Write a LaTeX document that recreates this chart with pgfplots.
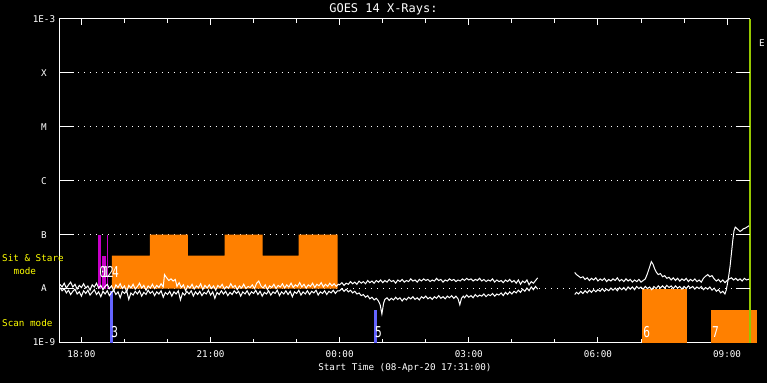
\documentclass[border=0pt]{standalone}
\usepackage{pgfplots}
\pgfplotsset{compat=1.18}
\usepackage{fontspec}
\setmainfont{DejaVu Sans Mono}
\definecolor{orng}{RGB}{255,128,0}
\definecolor{mgnt}{RGB}{200,0,200}
\definecolor{blu}{RGB}{100,100,255}
\definecolor{grn}{RGB}{150,200,0}
\definecolor{yel}{RGB}{255,255,0}
\newcommand{\sm}{\fontsize{9.3bp}{11bp}\selectfont}
\newcommand{\bl}[1]{\scalebox{0.75}[1]{\fontsize{15bp}{16bp}\selectfont #1}}
\begin{document}
\begin{tikzpicture}
\fill[black] (0bp,0bp) rectangle (768bp,384bp);
\begin{axis}[
  at={(60bp,41bp)}, anchor=south west,
  scale only axis, width=691bp, height=324bp,
  xmin=17.5, xmax=33.53, ymin=-9, ymax=-3,
  clip=false,
  axis line style={white, line width=1bp},
  xtick={18,21,24,27,30,33},
  xticklabels={18:00,21:00,00:00,03:00,06:00,09:00},
  minor xtick={19,20,22,23,25,26,28,29,31,32},
  major tick length=6bp, minor tick length=4bp,
  xtick style={white, line width=1bp},
  tick align=inside,
  ytick={-9,-8,-7,-6,-5,-4,-3},
  yticklabels={1E-9,A,B,C,M,X,1E-3},
  ytick style={draw=none},
  ymajorgrids,
  major grid style={white, line width=1bp, dash pattern=on 1bp off 5bp},
  tick label style={text=white, font=\sm},
  xticklabel style={anchor=north, inner sep=0pt, yshift=-8bp},
  yticklabel style={anchor=center, inner sep=0pt, xshift=-16bp},
  /pgf/number format/assume math mode=true,
]
% sit & stare bars
\addplot[fill=mgnt, draw=none] coordinates {(18.383,-8) (18.452,-8) (18.452,-7) (18.383,-7)};
\addplot[fill=mgnt, draw=none] coordinates {(18.469,-8) (18.568,-8) (18.568,-7.39) (18.469,-7.39)};
\addplot[fill=mgnt, draw=none] coordinates {(18.585,-8) (18.615,-8) (18.615,-7) (18.585,-7)};
\addplot[fill=orng, draw=none] coordinates {(18.708,-8) (18.708,-7.39) (19.589,-7.39) (19.589,-7) (20.471,-7) (20.471,-7.39) (21.329,-7.39) (21.329,-7) (22.211,-7) (22.211,-7.39) (23.046,-7.39) (23.046,-7) (23.951,-7) (23.951,-8)};
% scan bars
\addplot[fill=blu, draw=none] coordinates {(18.661,-9) (18.731,-9) (18.731,-8.05) (18.661,-8.05)};
\addplot[fill=blu, draw=none] coordinates {(24.798,-9) (24.856,-9) (24.856,-8.39) (24.798,-8.39)};
\addplot[fill=orng, draw=none] coordinates {(31.027,-9) (32.071,-9) (32.071,-8.0) (31.027,-8.0)};
\addplot[fill=orng, draw=none] coordinates {(32.629,-9) (33.70,-9) (33.70,-8.39) (32.629,-8.39)};
% upper curve, part 1
\addplot[white, line width=1bp] coordinates {
(17.50,-7.92) (17.55,-7.97) (17.60,-7.90) (17.65,-7.99) (17.70,-7.93) (17.75,-7.88) (17.80,-7.97) (17.85,-7.92) (17.90,-8.01) (17.95,-7.94)
(18.00,-7.98) (18.05,-7.91) (18.10,-7.99) (18.15,-7.95) (18.20,-8.03) (18.25,-7.93) (18.30,-7.97) (18.35,-7.90) (18.40,-7.99) (18.45,-7.94)
(18.50,-8.02) (18.55,-7.96) (18.60,-7.92) (18.65,-8.00) (18.70,-7.95) (18.75,-8.04) (18.80,-7.93) (18.85,-7.98) (18.90,-7.91) (18.95,-8.00)
(19.00,-7.95) (19.05,-8.06) (19.10,-7.94) (19.15,-7.99) (19.20,-7.92) (19.25,-8.01) (19.30,-7.96) (19.35,-7.90) (19.40,-7.99) (19.45,-7.94)
(19.50,-8.03) (19.55,-7.95) (19.60,-7.99) (19.65,-7.92) (19.70,-8.00) (19.75,-7.94) (19.80,-7.98) (19.85,-7.91) (19.90,-7.97) (19.93,-7.74)
(19.98,-7.80) (20.03,-7.85) (20.08,-7.82) (20.13,-7.86) (20.18,-7.83) (20.22,-7.96) (20.27,-7.89) (20.32,-7.98) (20.37,-7.93) (20.42,-8.04)
(20.47,-7.95) (20.52,-7.99) (20.57,-7.92) (20.62,-8.01) (20.67,-7.95) (20.72,-7.98) (20.77,-7.91) (20.82,-8.02) (20.87,-7.94) (20.92,-7.99)
(20.97,-7.93) (21.02,-8.00) (21.07,-7.95) (21.12,-8.03) (21.17,-7.94) (21.22,-7.98) (21.27,-7.92) (21.32,-8.01) (21.37,-7.96) (21.42,-7.99)
(21.47,-7.91) (21.52,-7.98) (21.57,-7.94) (21.62,-8.02) (21.67,-7.95) (21.72,-7.99) (21.77,-7.92) (21.82,-8.00) (21.87,-7.96) (21.92,-7.98)
(21.97,-7.93) (22.02,-8.00) (22.07,-7.90) (22.12,-7.86) (22.17,-7.95) (22.22,-7.99) (22.27,-7.93) (22.32,-8.02) (22.37,-7.95) (22.42,-7.98)
(22.47,-7.92) (22.52,-8.00) (22.57,-7.94) (22.62,-7.97) (22.67,-7.91) (22.72,-7.99) (22.77,-7.93) (22.82,-7.97) (22.87,-7.90) (22.92,-7.98)
(22.97,-7.93) (23.02,-7.96) (23.07,-7.89) (23.12,-7.97) (23.17,-7.92) (23.22,-7.99) (23.27,-7.93) (23.32,-7.96) (23.37,-7.90) (23.42,-7.98)
(23.47,-7.92) (23.52,-7.95) (23.57,-7.89) (23.62,-7.97) (23.67,-7.92) (23.72,-7.96) (23.77,-7.90) (23.82,-7.95) (23.87,-7.91) (23.92,-7.96)
(23.97,-7.92) (24.00,-7.93) (24.05,-7.89) (24.10,-7.94) (24.15,-7.90) (24.20,-7.92) (24.25,-7.87) (24.30,-7.91) (24.35,-7.88) (24.40,-7.92)
(24.45,-7.86) (24.50,-7.90) (24.55,-7.87) (24.60,-7.91) (24.65,-7.85) (24.70,-7.89) (24.75,-7.86) (24.80,-7.90) (24.85,-7.85) (24.90,-7.88)
(24.95,-7.84) (25.00,-7.89) (25.05,-7.85) (25.10,-7.88) (25.15,-7.83) (25.20,-7.87) (25.25,-7.85) (25.30,-7.90) (25.35,-7.84) (25.40,-7.87)
(25.45,-7.83) (25.50,-7.88) (25.55,-7.85) (25.60,-7.87) (25.65,-7.82) (25.70,-7.86) (25.75,-7.84) (25.80,-7.88) (25.85,-7.83) (25.90,-7.86)
(25.95,-7.82) (26.00,-7.85) (26.05,-7.83) (26.10,-7.87) (26.15,-7.84) (26.20,-7.86) (26.25,-7.81) (26.30,-7.85) (26.35,-7.83) (26.40,-7.88)
(26.45,-7.84) (26.50,-7.86) (26.55,-7.82) (26.60,-7.85) (26.65,-7.83) (26.70,-7.87) (26.75,-7.84) (26.80,-7.86) (26.85,-7.82) (26.90,-7.85)
(26.95,-7.81) (27.00,-7.84) (27.05,-7.82) (27.10,-7.86) (27.15,-7.83) (27.20,-7.85) (27.25,-7.81) (27.30,-7.86) (27.35,-7.83) (27.40,-7.87)
(27.45,-7.84) (27.50,-7.86) (27.55,-7.82) (27.60,-7.88) (27.65,-7.84) (27.70,-7.87) (27.75,-7.85) (27.80,-7.89) (27.85,-7.84) (27.90,-7.87)
(27.95,-7.83) (28.00,-7.88) (28.05,-7.85) (28.10,-7.90) (28.15,-7.84) (28.20,-7.92) (28.25,-7.86) (28.30,-7.89) (28.35,-7.84) (28.40,-7.93)
(28.45,-7.87) (28.50,-7.90) (28.55,-7.85) (28.60,-7.80)};
% lower curve, part 1
\addplot[white, line width=1bp] coordinates {
(17.50,-7.98) (17.55,-8.04) (17.60,-8.00) (17.65,-8.08) (17.70,-8.03) (17.75,-8.11) (17.80,-8.05) (17.85,-8.01) (17.90,-8.10) (17.95,-8.06)
(18.00,-8.14) (18.05,-8.04) (18.10,-8.09) (18.15,-8.03) (18.20,-8.12) (18.25,-8.07) (18.30,-8.02) (18.35,-8.11) (18.40,-8.06) (18.45,-8.15)
(18.50,-8.05) (18.55,-8.10) (18.60,-8.04) (18.65,-8.13) (18.70,-8.07) (18.75,-8.03) (18.80,-8.11) (18.85,-8.06) (18.90,-8.17) (18.95,-8.05)
(19.00,-8.09) (19.05,-8.04) (19.10,-8.20) (19.15,-8.08) (19.20,-8.12) (19.25,-8.05) (19.30,-8.10) (19.35,-8.04) (19.40,-8.14) (19.45,-8.07)
(19.50,-8.11) (19.55,-8.03) (19.60,-8.09) (19.65,-8.05) (19.70,-8.13) (19.75,-8.06) (19.80,-8.10) (19.85,-8.04) (19.90,-8.16) (19.95,-8.07)
(20.00,-8.11) (20.05,-8.05) (20.10,-8.14) (20.15,-8.06) (20.20,-8.10) (20.25,-8.04) (20.30,-8.21) (20.35,-8.08) (20.40,-8.12) (20.45,-8.05)
(20.50,-8.10) (20.55,-8.04) (20.60,-8.14) (20.65,-8.06) (20.70,-8.11) (20.75,-8.05) (20.80,-8.13) (20.85,-8.07) (20.90,-8.10) (20.95,-8.03)
(21.00,-8.12) (21.05,-8.06) (21.10,-8.18) (21.15,-8.07) (21.20,-8.11) (21.25,-8.04) (21.30,-8.10) (21.35,-8.05) (21.40,-8.13) (21.45,-8.07)
(21.50,-8.11) (21.55,-8.04) (21.60,-8.09) (21.65,-8.05) (21.70,-8.14) (21.75,-8.06) (21.80,-8.10) (21.85,-8.04) (21.90,-8.12) (21.95,-8.06)
(22.00,-8.09) (22.05,-8.03) (22.10,-8.11) (22.15,-8.05) (22.20,-8.14) (22.25,-8.07) (22.30,-8.10) (22.35,-8.04) (22.40,-8.12) (22.45,-8.06)
(22.50,-8.09) (22.55,-8.03) (22.60,-8.13) (22.65,-8.06) (22.70,-8.10) (22.75,-8.04) (22.80,-8.11) (22.85,-8.05) (22.90,-8.15) (22.95,-8.06)
(23.00,-8.09) (23.05,-8.03) (23.10,-8.12) (23.15,-8.06) (23.20,-8.10) (23.25,-8.04) (23.30,-8.11) (23.35,-8.05) (23.40,-8.08) (23.45,-8.03)
(23.50,-8.12) (23.55,-8.06) (23.60,-8.09) (23.65,-8.04) (23.70,-8.11) (23.75,-8.05) (23.80,-8.08) (23.85,-8.03) (23.90,-8.09) (23.95,-8.04)
(24.00,-8.04) (24.05,-8.00) (24.10,-8.05) (24.15,-8.01) (24.20,-8.06) (24.25,-8.03) (24.30,-8.08) (24.35,-8.05) (24.40,-8.10) (24.45,-8.08)
(24.50,-8.13) (24.55,-8.11) (24.60,-8.16) (24.65,-8.13) (24.70,-8.19) (24.75,-8.16) (24.80,-8.21) (24.85,-8.18) (24.90,-8.23) (24.94,-8.30)
(24.98,-8.47) (25.02,-8.27) (25.05,-8.20) (25.10,-8.17) (25.15,-8.22) (25.20,-8.18) (25.25,-8.21) (25.30,-8.16) (25.35,-8.20) (25.40,-8.17)
(25.45,-8.23) (25.50,-8.18) (25.55,-8.21) (25.60,-8.16) (25.65,-8.19) (25.70,-8.15) (25.75,-8.20) (25.80,-8.17) (25.85,-8.21) (25.90,-8.15)
(25.95,-8.18) (26.00,-8.14) (26.05,-8.19) (26.10,-8.16) (26.15,-8.20) (26.20,-8.15) (26.25,-8.18) (26.30,-8.13) (26.35,-8.18) (26.40,-8.15)
(26.45,-8.19) (26.50,-8.14) (26.55,-8.17) (26.60,-8.13) (26.65,-8.18) (26.70,-8.14) (26.75,-8.19) (26.79,-8.30) (26.83,-8.18) (26.87,-8.14)
(26.90,-8.17) (26.95,-8.12) (27.00,-8.16) (27.05,-8.13) (27.10,-8.17) (27.15,-8.11) (27.20,-8.15) (27.25,-8.12) (27.30,-8.14) (27.35,-8.10)
(27.40,-8.15) (27.45,-8.11) (27.50,-8.13) (27.55,-8.09) (27.60,-8.14) (27.65,-8.10) (27.70,-8.12) (27.75,-8.08) (27.80,-8.13) (27.85,-8.07)
(27.90,-8.11) (27.95,-8.06) (28.00,-8.10) (28.05,-8.05) (28.10,-8.08) (28.15,-8.03) (28.20,-8.07) (28.25,-8.01) (28.30,-8.05) (28.35,-7.99)
(28.40,-8.04) (28.45,-7.97) (28.50,-8.02) (28.55,-7.96) (28.60,-8.01)};
% upper curve, part 2
\addplot[white, line width=1bp] coordinates {
(29.46,-7.70) (29.50,-7.74) (29.55,-7.77) (29.60,-7.80) (29.65,-7.78) (29.70,-7.83) (29.75,-7.80) (29.80,-7.85) (29.85,-7.81) (29.90,-7.84)
(29.95,-7.80) (30.00,-7.86) (30.05,-7.82) (30.10,-7.85) (30.15,-7.81) (30.20,-7.87) (30.25,-7.83) (30.30,-7.86) (30.35,-7.82) (30.40,-7.85)
(30.45,-7.80) (30.50,-7.86) (30.55,-7.83) (30.60,-7.87) (30.65,-7.82) (30.70,-7.86) (30.75,-7.83) (30.80,-7.88) (30.85,-7.84) (30.90,-7.87)
(30.95,-7.83) (31.00,-7.88) (31.05,-7.85) (31.10,-7.82) (31.15,-7.72) (31.20,-7.60) (31.24,-7.50) (31.28,-7.55) (31.32,-7.64) (31.36,-7.70)
(31.40,-7.74) (31.45,-7.72) (31.50,-7.78) (31.55,-7.76) (31.60,-7.81) (31.65,-7.79) (31.70,-7.84) (31.75,-7.80) (31.80,-7.85) (31.85,-7.81)
(31.90,-7.86) (31.95,-7.82) (32.00,-7.85) (32.05,-7.81) (32.10,-7.87) (32.15,-7.83) (32.20,-7.86) (32.25,-7.82) (32.30,-7.87) (32.35,-7.84)
(32.40,-7.88) (32.45,-7.81) (32.50,-7.77) (32.55,-7.74) (32.60,-7.78) (32.65,-7.76) (32.70,-7.82) (32.75,-7.86) (32.80,-7.83) (32.85,-7.88)
(32.90,-7.84) (32.95,-7.89) (33.00,-7.85) (33.05,-7.82) (33.10,-7.80) (33.15,-7.84) (33.20,-7.81) (33.25,-7.85) (33.30,-7.82) (33.35,-7.86)
(33.40,-7.81) (33.45,-7.84) (33.53,-7.82)};
% lower curve, part 2
\addplot[white, line width=1bp] coordinates {
(29.46,-8.11) (29.50,-8.07) (29.55,-8.10) (29.60,-8.05) (29.65,-8.09) (29.70,-8.04) (29.75,-8.08) (29.80,-8.03) (29.85,-8.07) (29.90,-8.02)
(29.95,-8.06) (30.00,-8.02) (30.05,-8.05) (30.10,-8.00) (30.15,-8.05) (30.20,-8.01) (30.25,-8.04) (30.30,-7.99) (30.35,-8.03) (30.40,-7.99)
(30.45,-8.04) (30.50,-7.98) (30.55,-8.02) (30.60,-7.98) (30.65,-8.03) (30.70,-7.97) (30.75,-8.01) (30.80,-7.97) (30.85,-8.02) (30.90,-7.96)
(30.95,-8.00) (31.00,-7.97) (31.05,-8.01) (31.10,-7.96) (31.15,-8.00) (31.20,-7.97) (31.25,-8.02) (31.30,-7.96) (31.35,-8.00) (31.40,-7.95)
(31.45,-7.99) (31.50,-7.95) (31.55,-7.99) (31.60,-7.94) (31.65,-7.98) (31.70,-7.95) (31.75,-8.00) (31.80,-7.95) (31.85,-7.99) (31.90,-7.96)
(31.95,-8.01) (32.00,-7.96) (32.05,-8.00) (32.10,-7.95) (32.15,-7.99) (32.20,-7.96) (32.25,-8.01) (32.30,-7.97) (32.35,-8.00) (32.40,-7.96)
(32.45,-8.02) (32.50,-7.98) (32.55,-8.01) (32.60,-7.97) (32.65,-8.03) (32.70,-7.99) (32.75,-8.05) (32.80,-8.02) (32.85,-8.08) (32.90,-8.05)
(32.95,-8.10) (32.98,-8.03) (33.01,-7.90) (33.04,-7.75) (33.07,-7.58) (33.10,-7.35) (33.13,-7.12) (33.16,-6.93) (33.19,-6.86) (33.22,-6.88)
(33.26,-6.91) (33.30,-6.94) (33.34,-6.92) (33.38,-6.89) (33.42,-6.88) (33.46,-6.86) (33.50,-6.84) (33.53,-6.82)};
% end-of-data line
\addplot[grn, line width=2bp] coordinates {(33.53,-9) (33.53,-3)};
% y ticks on both sides
\pgfplotsinvokeforeach{-8,-7,-6,-5,-4}{
  \draw[white, line width=1bp] (axis cs:17.5,#1) -- (axis cs:17.825,#1);
  \draw[white, line width=1bp] (axis cs:33.205,#1) -- (axis cs:33.53,#1);
}
% bar labels
\node[white, anchor=base west, inner sep=0pt] at (axis cs:18.41,-7.80) {\bl{0}};
\node[white, anchor=base west, inner sep=0pt] at (axis cs:18.49,-7.80) {\bl{1}};
\node[white, anchor=base west, inner sep=0pt] at (axis cs:18.59,-7.80) {\bl{2}};
\node[white, anchor=base west, inner sep=0pt] at (axis cs:18.71,-7.80) {\bl{4}};
\node[white, anchor=base west, inner sep=0pt] at (axis cs:18.69,-8.91) {\bl{3}};
\node[white, anchor=base west, inner sep=0pt] at (axis cs:24.82,-8.91) {\bl{5}};
\node[white, anchor=base west, inner sep=0pt] at (axis cs:31.05,-8.91) {\bl{6}};
\node[white, anchor=base west, inner sep=0pt] at (axis cs:32.65,-8.91) {\bl{7}};
\end{axis}
\node[white, font=\fontsize{12bp}{14bp}\selectfont] at (384bp,375bp) {GOES 14 X-Rays:};
\node[white, font=\sm] at (405.5bp,16bp) {Start Time (08-Apr-20 17:31:00)};
\node[white, font=\sm] at (763bp,341bp) {E};
\node[yel, font=\sm, anchor=west, inner sep=0pt] at (2bp,126bp) {Sit \& Stare};
\node[yel, font=\sm, anchor=west, inner sep=0pt] at (13.5bp,113bp) {mode};
\node[yel, font=\sm, anchor=west, inner sep=0pt] at (2bp,61bp) {Scan mode};
\end{tikzpicture}
\end{document}
